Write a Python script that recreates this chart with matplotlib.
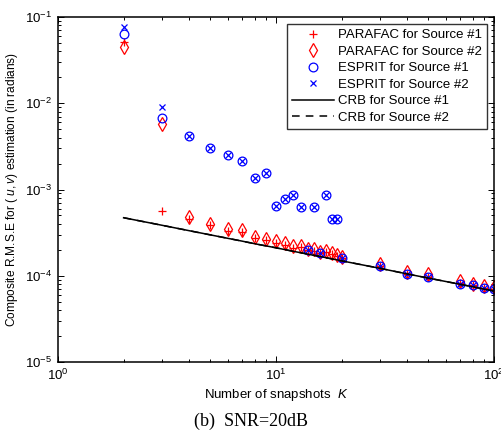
#!/usr/bin/env python3
# plot.py
# Composite RMSE vs number of snapshots (SNR = 20 dB)

import matplotlib
matplotlib.use("Agg")
import matplotlib.pyplot as plt

# number of snapshots
snapshots = [2, 3, 4, 5, 6, 7, 8, 9, 10, 11, 12, 13, 14, 15, 16, 17, 18, 19, 20,
             30, 40, 50, 70, 80, 90, 100]

parafac_src1 = [5.2e-2, 5.6e-4, 4.6e-4, 3.85e-4, 3.3e-4, 3.25e-4, 2.75e-4, 2.6e-4,
                2.42e-4, 2.3e-4, 2.12e-4, 2.15e-4, 2.0e-4, 1.96e-4, 1.85e-4, 1.88e-4,
                1.77e-4, 1.68e-4, 1.6e-4, 1.3e-4, 1.06e-4, 9.8e-5, 8.2e-5, 7.8e-5,
                7.3e-5, 7.0e-5]
parafac_src2 = [4.5e-2, 5.7e-3, 4.8e-4, 3.95e-4, 3.45e-4, 3.4e-4, 2.85e-4, 2.7e-4,
                2.5e-4, 2.4e-4, 2.2e-4, 2.22e-4, 2.05e-4, 2.02e-4, 1.9e-4, 1.95e-4,
                1.82e-4, 1.72e-4, 1.65e-4, 1.38e-4, 1.12e-4, 1.04e-4, 8.8e-5, 8.1e-5,
                7.6e-5, 7.4e-5]
esprit_src1 = [6.3e-2, 6.7e-3, 4.2e-3, 3.0e-3, 2.5e-3, 2.15e-3, 1.37e-3, 1.55e-3,
               6.5e-4, 7.7e-4, 8.6e-4, 6.3e-4, 2.0e-4, 6.2e-4, 1.85e-4, 8.7e-4,
               4.6e-4, 4.6e-4, 1.6e-4, 1.3e-4, 1.06e-4, 9.7e-5, 8.0e-5, 7.9e-5,
               7.2e-5, 7.0e-5]
esprit_src2 = [7.6e-2, 9.1e-3, 4.2e-3, 3.0e-3, 2.5e-3, 2.15e-3, 1.37e-3, 1.55e-3,
               6.5e-4, 7.7e-4, 8.6e-4, 6.3e-4, 2.0e-4, 6.2e-4, 1.85e-4, 8.7e-4,
               4.6e-4, 4.6e-4, 1.6e-4, 1.3e-4, 1.06e-4, 9.7e-5, 8.0e-5, 7.9e-5,
               7.2e-5, 7.0e-5]
crb_src1 = [4.71e-4, 3.85e-4, 3.33e-4, 2.98e-4, 2.72e-4, 2.52e-4, 2.35e-4, 2.22e-4,
            2.11e-4, 2.01e-4, 1.92e-4, 1.85e-4, 1.78e-4, 1.72e-4, 1.67e-4, 1.62e-4,
            1.57e-4, 1.53e-4, 1.49e-4, 1.22e-4, 1.05e-4, 9.4e-5, 7.96e-5, 7.45e-5,
            7.0e-5, 6.66e-5]
crb_src2 = [4.71e-4, 3.85e-4, 3.33e-4, 2.98e-4, 2.72e-4, 2.52e-4, 2.35e-4, 2.22e-4,
            2.11e-4, 2.01e-4, 1.92e-4, 1.85e-4, 1.78e-4, 1.72e-4, 1.67e-4, 1.62e-4,
            1.57e-4, 1.53e-4, 1.49e-4, 1.22e-4, 1.05e-4, 9.4e-5, 7.96e-5, 7.45e-5,
            7.0e-5, 6.66e-5]

plt.rcParams["font.family"] = ["Liberation Sans", "DejaVu Sans"]
plt.rcParams["mathtext.fontset"] = "custom"
plt.rcParams["mathtext.rm"] = "Liberation Sans"
plt.rcParams["mathtext.it"] = "Liberation Sans:italic"


def main():
    fig = plt.figure(figsize=(5.02, 4.43), dpi=100)
    ax = fig.add_axes([0.1155, 0.1828, 0.8685, 0.7788])

    ax.plot(snapshots, parafac_src1, "+", color="red", ms=6, mew=0.9,
            label="PARAFAC for Source #1")
    ax.plot(snapshots, parafac_src2, "d", color="red", mfc="none", ms=7, mew=0.9,
            label="PARAFAC for Source #2")
    ax.plot(snapshots, esprit_src1, "o", color="blue", mfc="none", ms=6.3, mew=0.9,
            label="ESPRIT for Source #1")
    ax.plot(snapshots, esprit_src2, "x", color="blue", ms=4.2, mew=0.9,
            label="ESPRIT for Source #2")
    ax.plot(snapshots, crb_src1, "-", color="black", lw=1.1,
            label="CRB for Source #1")
    ax.plot(snapshots, crb_src2, "--", color="black", lw=1.1, dashes=(5, 4),
            label="CRB for Source #2")

    ax.set_xscale("log")
    ax.set_yscale("log")
    ax.set_xlim(1, 100)
    ax.set_ylim(1e-5, 1e-1)

    ax.tick_params(which="both", direction="in", top=True, right=True,
                   labelsize=9.5, width=0.7)
    ax.tick_params(which="major", length=4.5, pad=4)
    ax.tick_params(which="minor", length=2.5)
    for s in ax.spines.values():
        s.set_linewidth(1.1)

    ax.set_xlabel(r"Number of snapshots  $\it{K}$", fontsize=9.5, labelpad=3)
    ax.set_ylabel(r"Composite R.M.S.E for ( $\it{u,v}$) estimation (in radians)",
                  fontsize=8.6, labelpad=4)

    leg = ax.legend(loc="upper right", fontsize=9.5, frameon=True, fancybox=False,
                    edgecolor="black", handlelength=3.2, handletextpad=0.3,
                    labelspacing=0.33, borderpad=0.4, borderaxespad=0.5)
    leg.get_frame().set_linewidth(1.0)

    fig.text(0.5, 0.048, "(b)  SNR=20dB", ha="center", va="center",
             fontsize=13, family=["Liberation Serif", "DejaVu Serif"])

    fig.savefig("out.png", dpi=100)


if __name__ == "__main__":
    main()
